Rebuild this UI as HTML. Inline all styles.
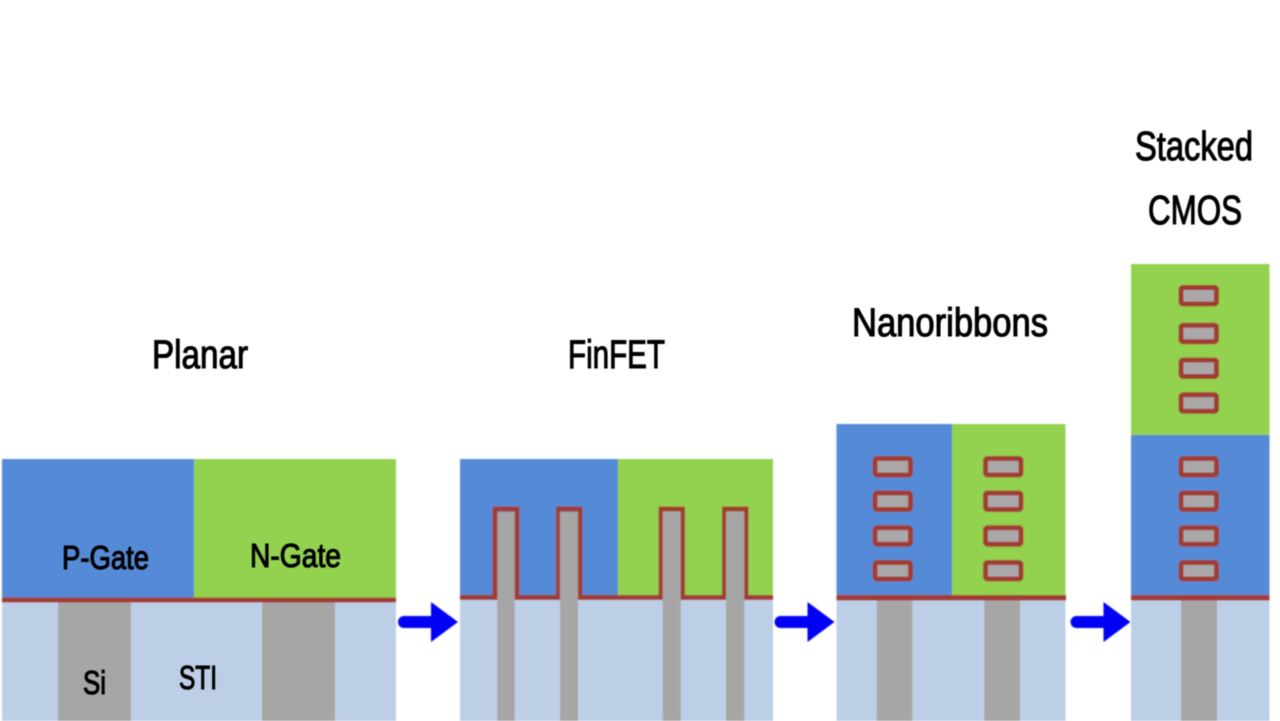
<!DOCTYPE html>
<html><head><meta charset="utf-8"><style>
html,body{margin:0;padding:0;background:#fff;width:1280px;height:721px;overflow:hidden}
svg{display:block}
text{font-family:"Liberation Sans",sans-serif;fill:#050505;stroke:#050505;stroke-width:1.1px;}
</style></head><body>
<svg width="1280" height="721" viewBox="0 0 1280 721" xmlns="http://www.w3.org/2000/svg">
<defs>
<filter id="b" x="-2%" y="-2%" width="104%" height="104%"><feGaussianBlur stdDeviation="0.7"/></filter>
<filter id="t" x="-5%" y="-5%" width="110%" height="110%"><feGaussianBlur stdDeviation="0.6"/></filter>
<path id="a" d="M0 -6H-27A6 6 0 0 0 -27 6H0V20L27 0L0 -20Z" fill="#0000f5"/>
<g id="r"><rect x="2.500" y="2.500" width="35.500" height="16.500" rx="2" fill="#aaa8a8" stroke="#a23a33" stroke-width="5"/></g>
</defs>
<g filter="url(#b)">
<!-- Planar -->
<rect x="2" y="459" width="192" height="139" fill="#548ad6"/>
<rect x="194" y="459" width="202" height="139" fill="#92d250"/>
<rect x="2" y="602" width="394" height="119" fill="#bdcfe6"/>
<rect x="58" y="602" width="73" height="119" fill="#a6a6a6"/>
<rect x="262" y="602" width="73" height="119" fill="#a6a6a6"/>
<rect x="2" y="597.500" width="394" height="5" fill="#a23a33"/>
<use href="#a" x="431" y="622"/>
<!-- FinFET -->
<rect x="460" y="459" width="158" height="139" fill="#548ad6"/>
<rect x="618" y="459" width="155" height="139" fill="#92d250"/>
<rect x="460" y="600" width="313" height="121" fill="#bdcfe6"/>
<path d="M460 597.500H495V509H517V597.500H558.500V509H580V597.500H661V509H682.500V597.500H724.500V509H746V597.500H773" fill="none" stroke="#a23a33" stroke-width="5"/>
<rect x="497.300" y="512" width="17.400" height="209" fill="#a6a6a6"/>
<rect x="560" y="512" width="18" height="209" fill="#a6a6a6"/>
<rect x="662.700" y="512" width="18" height="209" fill="#a6a6a6"/>
<rect x="726" y="512" width="18.300" height="209" fill="#a6a6a6"/>
<use href="#a" x="807.500" y="622"/>
<!-- Nanoribbons -->
<rect x="836.500" y="424" width="115.500" height="173" fill="#548ad6"/>
<rect x="952" y="424" width="113.500" height="173" fill="#92d250"/>
<rect x="836.500" y="600" width="229" height="121" fill="#bdcfe6"/>
<rect x="876.700" y="600" width="35.600" height="121" fill="#a6a6a6"/>
<rect x="984.300" y="600" width="35.700" height="121" fill="#a6a6a6"/>
<rect x="836.500" y="595" width="229.500" height="5.500" fill="#a23a33"/>
<use href="#r" x="872.500" y="456"/><use href="#r" x="872.500" y="490.500"/><use href="#r" x="872.500" y="525.200"/><use href="#r" x="872.500" y="560"/>
<use href="#r" x="983" y="456"/><use href="#r" x="983" y="490.500"/><use href="#r" x="983" y="525.200"/><use href="#r" x="983" y="560"/>
<use href="#a" x="1103.500" y="622"/>
<!-- Stacked -->
<rect x="1131" y="264" width="138.500" height="171" fill="#92d250"/>
<rect x="1131" y="435" width="138.500" height="162" fill="#548ad6"/>
<rect x="1131" y="600" width="138.500" height="121" fill="#bdcfe6"/>
<rect x="1181" y="600" width="36" height="121" fill="#a6a6a6"/>
<rect x="1131" y="595" width="138.500" height="5.500" fill="#a23a33"/>
<use href="#r" x="1178.500" y="285"/><use href="#r" x="1178.500" y="322.700"/><use href="#r" x="1178.500" y="357.500"/><use href="#r" x="1178.500" y="392.300"/>
<use href="#r" x="1178.500" y="456"/><use href="#r" x="1178.500" y="490.500"/><use href="#r" x="1178.500" y="525.200"/><use href="#r" x="1178.500" y="560"/>
</g>
<g filter="url(#t)">
<text x="152" y="368" font-size="40" textLength="96" lengthAdjust="spacingAndGlyphs">Planar</text>
<text x="568" y="368" font-size="40" textLength="97" lengthAdjust="spacingAndGlyphs">FinFET</text>
<text x="852" y="336" font-size="40" textLength="196" lengthAdjust="spacingAndGlyphs">Nanoribbons</text>
<text x="1135" y="160" font-size="41" textLength="118" lengthAdjust="spacingAndGlyphs">Stacked</text>
<text x="1148" y="224" font-size="41" textLength="94" lengthAdjust="spacingAndGlyphs">CMOS</text>
<text x="62" y="569" font-size="33" textLength="87" lengthAdjust="spacingAndGlyphs">P-Gate</text>
<text x="250" y="567" font-size="33" textLength="91" lengthAdjust="spacingAndGlyphs">N-Gate</text>
<text x="83" y="694" font-size="33" textLength="23" lengthAdjust="spacingAndGlyphs">Si</text>
<text x="179" y="689" font-size="33" textLength="38" lengthAdjust="spacingAndGlyphs">STI</text>
</g>
</svg>
</body></html>
